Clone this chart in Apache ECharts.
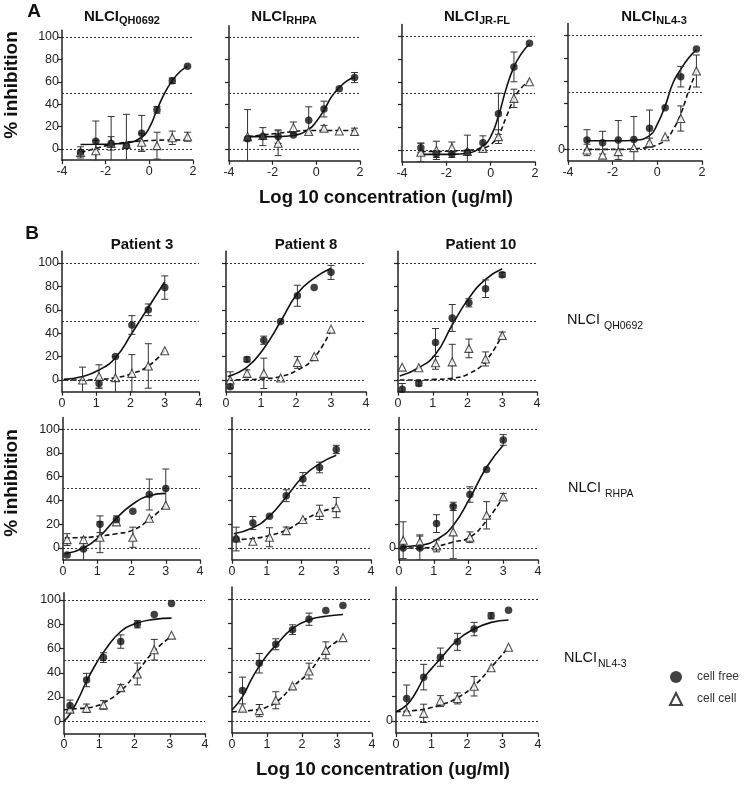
<!DOCTYPE html>
<html><head><meta charset="utf-8">
<script src="https://cdn.jsdelivr.net/npm/echarts@6/dist/echarts.min.js"></script>
<style>html,body{margin:0;padding:0;background:#fff}#c{width:750px;height:786px}</style>
</head><body><div id="c"></div>
<script>
// ---------- tick / reference values ----------
const yTicks = [0, 20, 40, 60, 80, 100];
const refLines = [0, 50, 100];

// ---------- Panel A (x = log10 concentration) ----------
const xA = [-3.15, -2.45, -1.75, -1.05, -0.35, 0.35, 1.05, 1.75];
const a1Free = [-3, 7, 5, 3, 14, 35, 61, 74];
const a1FreeErr = [5, 18, 24, 28, 16, 3, 2.5, 0];
const a1Cell = [-3, -1.5, 5, 4, 6, 3, 10, 11];
const a1CellErr = [0, 9, 6, 0, 8, 12, 6, 4];
const a2Free = [9.5, 11.5, 11.5, 13, 26, 36, 54, 64];
const a2FreeErr = [26, 8, 6, 0, 12, 7, 0, 4.5];
const a2Cell = [11.5, 12.5, 5.6, 19.5, 16, 19, 16.5, 16];
const a2CellErr = [0, 0, 11, 5, 0, 2.5, 0, 3];
const a3Free = [2.3, -3.2, -3.2, -1.7, 6.7, 32, 73, 93.6];
const a3FreeErr = [4, 3, 3, 15, 6, 18, 13, 0];
const a3Cell = [-1.7, 0, 2.3, -1, 1.7, 12, 45.5, 60];
const a3CellErr = [8, 8, 5, 0, 0, 6, 8, 0];
const a4Free = [8.2, 5.8, 8.2, 8.7, 18.4, 36.4, 63.6, 87.8];
const a4FreeErr = [9, 10, 17, 20, 16, 0, 9, 0];
const a4Cell = [-0.5, -5, -2, 1.5, 5.8, 11, 27, 68.5];
const a4CellErr = [5, 0, 0, 0, 4, 0, 11, 14];

// fitted curves
const fitXA = [-3.15, -2.45, -1.75, -1.05, -0.35, 0, 0.35, 0.7, 1.05, 1.4, 1.75];
const a1FitFree = [4, 4.2, 4.5, 5.5, 10.5, 19, 35, 50, 61, 69, 74];
const a1FitCell = [-3, 0.5, 4, 6, 7.2, 7.5, 7.8, 8, 8, 8, 8];
const a2FitFree = [11.5, 11.5, 11.5, 12.5, 18, 25, 35, 47, 55, 61, 64.5];
const a2FitCell = [11.5, 13, 14.5, 16, 17, 17, 17, 17, 17, 17, 17];
const a3FitFree = [-3.5, -3.5, -3.5, -2.5, 4, 12, 30, 54, 73, 85, 93];
const a3FitCell = [-1, -1, -0.5, 0, 2, 5, 13, 29, 45, 55, 61];
const a4FitFree = [7.5, 7.5, 7.5, 8, 12, 22, 38, 58, 70, 80, 87];
const a4FitCell = [0, 0, 0, 0.5, 2, 4, 8, 17, 31, 51, 68];

// ---------- Panel B ----------
const xB = [0.12, 0.6, 1.08, 1.56, 2.04, 2.52, 3.0];
const b11Free = [null, null, -3, 20, 47, 60, 79];
const b11FreeErr = [0, 0, 4, 0, 8, 5, 10];
const b11Cell = [null, 0, 3, 2, 5.7, 12, 25];
const b11CellErr = [0, 11, 10, 18, 16, 19, 0];
const b12Free = [-5.7, 17.6, 34, 50, 72, 79, 92];
const b12FreeErr = [0, 2, 3.5, 0, 9, 0, 6];
const b12Cell = [0, 5.7, 5.7, 1.7, 15, 20, 43.5];
const b12CellErr = [7, 3, 13, 0, 5, 0, 0];
const b13Free = [-8, -3, 32, 53, 66, 78, 90];
const b13FreeErr = [5, 2, 12, 11.5, 3.5, 7.5, 2];
const b13Cell = [11, 10.5, 14.7, 15.5, 27, 18, 38];
const b13CellErr = [0, 0, 5.5, 15, 8, 6, 3];
const b21Free = [-6, -1, 20, 24, 31, 45, 50];
const b21FreeErr = [0, 10, 7, 3, 0, 13, 16.5];
const b21Cell = [7, 7, 9, 22, 9, 25, 36];
const b21CellErr = [5, 0, 13, 0, 8.5, 0, 0];
const b22Free = [7.5, 21, 26.6, 44, 58, 67.8, 83];
const b22FreeErr = [10, 5.5, 0, 5, 5.5, 4.5, 3.5];
const b22Cell = [8.4, 5.6, 9, 14.6, 24, 30, 34];
const b22CellErr = [0, 0, 8, 3, 0, 6, 8.5];
const b23Free = [0, 0, 20.5, 35, 45, 66, 91];
const b23FreeErr = [0, 10, 7.5, 3.5, 6.5, 0, 4.5];
const b23Cell = [6.5, 5, 1.7, 13.5, 9, 27.5, 43];
const b23CellErr = [15.5, 6, 5, 22.5, 4.5, 11.5, 3];
const xB3a = [0.17, 0.64, 1.12, 1.61, 2.08, 2.56, 3.05];
const b31Free = [13, 34, 52.5, 65.7, 80, 88, 97];
const b31FreeErr = [4.5, 5.5, 4, 5.5, 3, 0, 0];
const b31Cell = [10, 10.7, 13.5, 27.7, 39, 59, 71];
const b31CellErr = [0, 3.5, 3.5, 2.5, 9, 8.5, 0];
const xB3 = [0.3, 0.78, 1.25, 1.73, 2.2, 2.68, 3.17];
const b32Free = [25, 47.4, 63, 75, 83.6, 90.7, 94.8];
const b32FreeErr = [11, 8, 4.5, 4, 5, 0, 0];
const b32Cell = [10.4, 8.5, 17, 28.8, 41, 58, 68.5];
const b32CellErr = [0, 5, 7, 0, 6.5, 7, 0];
const b33Free = [18.5, 36, 52.4, 65, 75.5, 86.4, 91];
const b33FreeErr = [11, 10.5, 7.5, 7, 5.5, 2.5, 0];
const b33Cell = [7.6, 6.25, 16.3, 18.5, 28.5, 43.75, 60.6];
const b33CellErr = [0, 7.5, 4.5, 4.5, 8, 0, 0];

const fitXB = [0.05, 0.6, 1.08, 1.56, 2.04, 2.52, 3.0];
const b11FitFree = [0.5, 3, 8.5, 19, 40, 62, 84];
const b11FitCell = [0, 0, 0.5, 2, 5.5, 12, 25];
const b12FitFree = [3, 11, 27, 50, 74, 87, 95.5];
const b12FitCell = [0, 0.3, 1, 3, 8.5, 19, 43];
const b13FitFree = [3.4, 10.5, 22, 47, 70, 86, 95];
const b13FitCell = [0, 0, 0.5, 1.5, 5.4, 16, 39];
const b21FitFree = [-5, 0, 10, 25, 37, 44, 46];
const b21FitCell = [8.5, 8.7, 10, 12, 15, 24, 36];
const b22FitFree = [12, 17, 27, 43, 60, 71, 78];
const b22FitCell = [7, 8, 10.5, 15, 23, 30, 34];
const b23FitFree = [1, 2.2, 7, 19, 42, 68, 86.5];
const b23FitCell = [0, 0, 1.4, 5, 9, 23, 43];
const fitXB3a = [0, 0.17, 0.4, 0.64, 0.9, 1.12, 1.61, 2.08, 2.56, 3.05];
const b31FitFree = [0, 6, 18, 33, 47, 57, 74, 81, 84, 85];
const b31FitCell = [9.5, 10, 10.5, 11, 12.5, 15, 25, 41, 58, 70];
const fitXB3 = [0, 0.3, 0.55, 0.78, 1.0, 1.25, 1.73, 2.2, 2.68, 3.17];
const b32FitFree = [9, 20, 34, 45, 54, 62, 76, 83, 86, 87.5];
const b32FitCell = [7.5, 8, 8.7, 9.5, 11.5, 15, 28, 40, 58, 68.5];
const b33FitFree = [7.6, 13, 23, 35, 43, 51, 66.5, 75.5, 81, 83];
const b33FitCell = [7.6, 8, 8.7, 9.5, 11, 13, 19, 29, 44, 60.6];

// ---------- layout ----------
const FONT = '"Liberation Sans", Arial, Helvetica, sans-serif';
const AX = {min: -4, max: 2, interval: 2};
const BX = {min: 0, max: 4, interval: 1};
const panels = [
  {g: [62, 30.3, 131, 129.9], ymax: 106, xs: AX, lab: 'all', x: xA, f: a1Free, fe: a1FreeErr, c: a1Cell, ce: a1CellErr, fx: fitXA, ff: a1FitFree, fc: a1FitCell},
  {g: [229, 25.8, 131, 135], ymax: 110, xs: AX, lab: 'none', x: xA, f: a2Free, fe: a2FreeErr, c: a2Cell, ce: a2CellErr, fx: fitXA, ff: a2FitFree, fc: a2FitCell},
  {g: [402, 24.6, 133, 137.2], ymax: 110, xs: AX, lab: 'none', x: xA, f: a3Free, fe: a3FreeErr, c: a3Cell, ce: a3CellErr, fx: fitXA, ff: a3FitFree, fc: a3FitCell},
  {g: [568, 23.6, 134, 137.2], ymax: 110, xs: AX, lab: 'zero', x: xA, f: a4Free, fe: a4FreeErr, c: a4Cell, ce: a4CellErr, fx: fitXA, ff: a4FitFree, fc: a4FitCell},
  {g: [62, 251.3, 137, 140.4], ymax: 110, xs: BX, lab: 'all', x: xB, f: b11Free, fe: b11FreeErr, c: b11Cell, ce: b11CellErr, fx: fitXB, ff: b11FitFree, fc: b11FitCell},
  {g: [226, 251.3, 140, 140.4], ymax: 110, xs: BX, lab: 'none', x: xB, f: b12Free, fe: b12FreeErr, c: b12Cell, ce: b12CellErr, fx: fitXB, ff: b12FitFree, fc: b12FitCell},
  {g: [398, 251.3, 139, 140.4], ymax: 110, xs: BX, lab: 'none', x: xB, f: b13Free, fe: b13FreeErr, c: b13Cell, ce: b13CellErr, fx: fitXB, ff: b13FitFree, fc: b13FitCell},
  {g: [63, 417.4, 137, 142.4], ymax: 110, xs: BX, lab: 'all', x: xB, f: b21Free, fe: b21FreeErr, c: b21Cell, ce: b21CellErr, fx: fitXB, ff: b21FitFree, fc: b21FitCell},
  {g: [232, 417.4, 139, 142.4], ymax: 110, xs: BX, lab: 'none', x: xB, f: b22Free, fe: b22FreeErr, c: b22Cell, ce: b22CellErr, fx: fitXB, ff: b22FitFree, fc: b22FitCell},
  {g: [399, 417.4, 139, 142.4], ymax: 110, xs: BX, lab: 'zero', x: xB, f: b23Free, fe: b23FreeErr, c: b23Cell, ce: b23CellErr, fx: fitXB, ff: b23FitFree, fc: b23FitCell},
  {g: [64, 592.7, 141, 140.7], ymax: 106, xs: BX, lab: 'all', x: xB3a, f: b31Free, fe: b31FreeErr, c: b31Cell, ce: b31CellErr, fx: fitXB3a, ff: b31FitFree, fc: b31FitCell},
  {g: [232, 587.1, 140, 146], ymax: 110, xs: BX, lab: 'none', x: xB3, f: b32Free, fe: b32FreeErr, c: b32Cell, ce: b32CellErr, fx: fitXB3, ff: b32FitFree, fc: b32FitCell},
  {g: [396, 587.1, 142, 146], ymax: 110, xs: BX, lab: 'zero', x: xB3, f: b33Free, fe: b33FreeErr, c: b33Cell, ce: b33CellErr, fx: fitXB3, ff: b33FitFree, fc: b33FitCell}
];

const AXC = '#222';
function errItem(params, api) {
  const x = api.value(0), y = api.value(1), e = api.value(2);
  const p1 = api.coord([x, y + e]), p2 = api.coord([x, y - e]);
  const w = 3.5, st = {stroke: '#333', lineWidth: 1};
  return {type: 'group', children: [
    {type: 'line', shape: {x1: p1[0], y1: p1[1], x2: p2[0], y2: p2[1]}, style: st},
    {type: 'line', shape: {x1: p1[0] - w, y1: p1[1], x2: p1[0] + w, y2: p1[1]}, style: st},
    {type: 'line', shape: {x1: p2[0] - w, y1: p2[1], x2: p2[0] + w, y2: p2[1]}, style: st}
  ]};
}
const pts = (xs, ys) => xs.map((x, k) => [x, ys[k]]).filter(d => d[1] !== null && d[1] !== undefined);
const errPts = (xs, ys, es) => xs.map((x, k) => [x, ys[k], es[k]]).filter(d => d[1] !== null && d[2] > 0);

const grid = [], xAxis = [], yAxis = [], series = [];
panels.forEach((p, i) => {
  grid.push({left: p.g[0], top: p.g[1], width: p.g[2], height: p.g[3], containLabel: false});
  xAxis.push({gridIndex: i, type: 'value', min: p.xs.min, max: p.xs.max, interval: p.xs.interval,
    axisLine: {onZero: false, lineStyle: {color: AXC, width: 1.5}},
    axisTick: {length: 4, lineStyle: {color: AXC, width: 1.2}},
    axisLabel: {margin: 5, fontSize: 12.5, color: AXC, fontFamily: FONT},
    splitLine: {show: false}});
  yAxis.push({gridIndex: i, type: 'value', min: -10, max: p.ymax,
    axisLine: {show: true, onZero: false, lineStyle: {color: AXC, width: 1.5}},
    axisTick: {show: true, length: 4, customValues: yTicks, lineStyle: {color: AXC, width: 1.2}},
    axisLabel: {show: p.lab !== 'none', customValues: p.lab === 'all' ? yTicks : [0], margin: 3,
      fontSize: 12.5, color: AXC, fontFamily: FONT},
    splitLine: {show: false}});
  series.push({type: 'line', name: 'fit free', xAxisIndex: i, yAxisIndex: i, data: pts(p.fx, p.ff),
    showSymbol: false, smooth: 0.5, lineStyle: {color: '#111', width: 1.6}, z: 2,
    markLine: {silent: true, symbol: ['none', 'none'], label: {show: false},
      lineStyle: {type: [2, 2], color: '#333', width: 1}, data: refLines.map(v => ({yAxis: v}))}});
  series.push({type: 'line', name: 'fit cell', xAxisIndex: i, yAxisIndex: i, data: pts(p.fx, p.fc),
    showSymbol: false, smooth: 0.5, lineStyle: {color: '#111', width: 1.6, type: [5, 3]}, z: 2});
  series.push({type: 'custom', name: 'err', xAxisIndex: i, yAxisIndex: i, renderItem: errItem, clip: true,
    data: errPts(p.x, p.f, p.fe).concat(errPts(p.x, p.c, p.ce)), encode: {x: 0, y: 1}, z: 3});
  series.push({type: 'scatter', name: 'cell cell', xAxisIndex: i, yAxisIndex: i, data: pts(p.x, p.c),
    symbol: 'triangle', symbolSize: 8, itemStyle: {color: '#fff', borderColor: '#222', borderWidth: 1.1}, z: 4});
  series.push({type: 'scatter', name: 'cell free', xAxisIndex: i, yAxisIndex: i, data: pts(p.x, p.f),
    symbol: 'circle', symbolSize: 7.5, itemStyle: {color: '#111'}, z: 5});
});

function txt(x, y, s, size, weight, extra) {
  return Object.assign({type: 'text', x: x, y: y, style: {text: s, fontSize: size, fontWeight: weight,
    fontFamily: FONT, fill: '#111', align: 'center', verticalAlign: 'middle'}}, extra || {});
}
function subTitle(cx, cy, main, sub) {
  return {type: 'text', x: cx, y: cy, style: {text: '{m|' + main + '}{s|' + sub + '}', align: 'center', verticalAlign: 'middle',
    rich: {m: {fontSize: 15, fontWeight: 'bold', fontFamily: FONT, fill: '#111', lineHeight: 18},
           s: {fontSize: 11, fontWeight: 'bold', fontFamily: FONT, fill: '#111', lineHeight: 13, verticalAlign: 'bottom'}}}};
}
function sideLabel(x, y, main, sub, subX) {
  return [
    {type: 'text', x: x, y: y, style: {text: main, fontSize: 14.5, fontFamily: FONT, fill: '#111', align: 'left', verticalAlign: 'middle'}},
    {type: 'text', x: subX, y: y + 6, style: {text: sub, fontSize: 10.5, fontFamily: FONT, fill: '#111', align: 'left', verticalAlign: 'middle'}}
  ];
}
const graphic = [
  txt(34, 12, 'A', 19, 'bold'),
  txt(12, 85, '% inhibition', 19, 'bold', {rotation: Math.PI / 2}),
  txt(386, 198, 'Log 10 concentration (ug/ml)', 18.5, 'bold'),
  subTitle(122, 17, 'NLCI', 'QH0692'),
  subTitle(284, 17, 'NLCI', 'RHPA'),
  subTitle(477, 17, 'NLCI', 'JR-FL'),
  subTitle(654, 17, 'NLCI', 'NL4-3'),
  txt(32, 234, 'B', 19, 'bold'),
  txt(142, 245, 'Patient 3', 15, 'bold'),
  txt(306, 245, 'Patient 8', 15, 'bold'),
  txt(481, 245, 'Patient 10', 15, 'bold'),
  txt(12, 483, '% inhibition', 19, 'bold', {rotation: Math.PI / 2}),
  txt(383, 770, 'Log 10 concentration (ug/ml)', 18.5, 'bold')
].concat(sideLabel(567, 320, 'NLCI', 'QH0692', 604))
 .concat(sideLabel(568, 488, 'NLCI', 'RHPA', 605))
 .concat(sideLabel(564, 658, 'NLCI', 'NL4-3', 598));

const chart = echarts.init(document.getElementById('c'), null, {renderer: 'canvas'});
chart.setOption({
  animation: false,
  backgroundColor: '#fff',
  grid, xAxis, yAxis, series, graphic,
  legend: {orient: 'vertical', left: 664, top: 666, itemWidth: 12, itemHeight: 12, itemGap: 9, selectedMode: false,
    data: [{name: 'cell free', icon: 'circle', itemStyle: {color: '#111'}},
           {name: 'cell cell', icon: 'triangle', itemStyle: {color: '#fff', borderColor: '#111', borderWidth: 2}}],
    textStyle: {fontSize: 12, color: '#333', fontFamily: FONT, padding: [0, 0, 0, 10]}}
});
</script></body></html>
